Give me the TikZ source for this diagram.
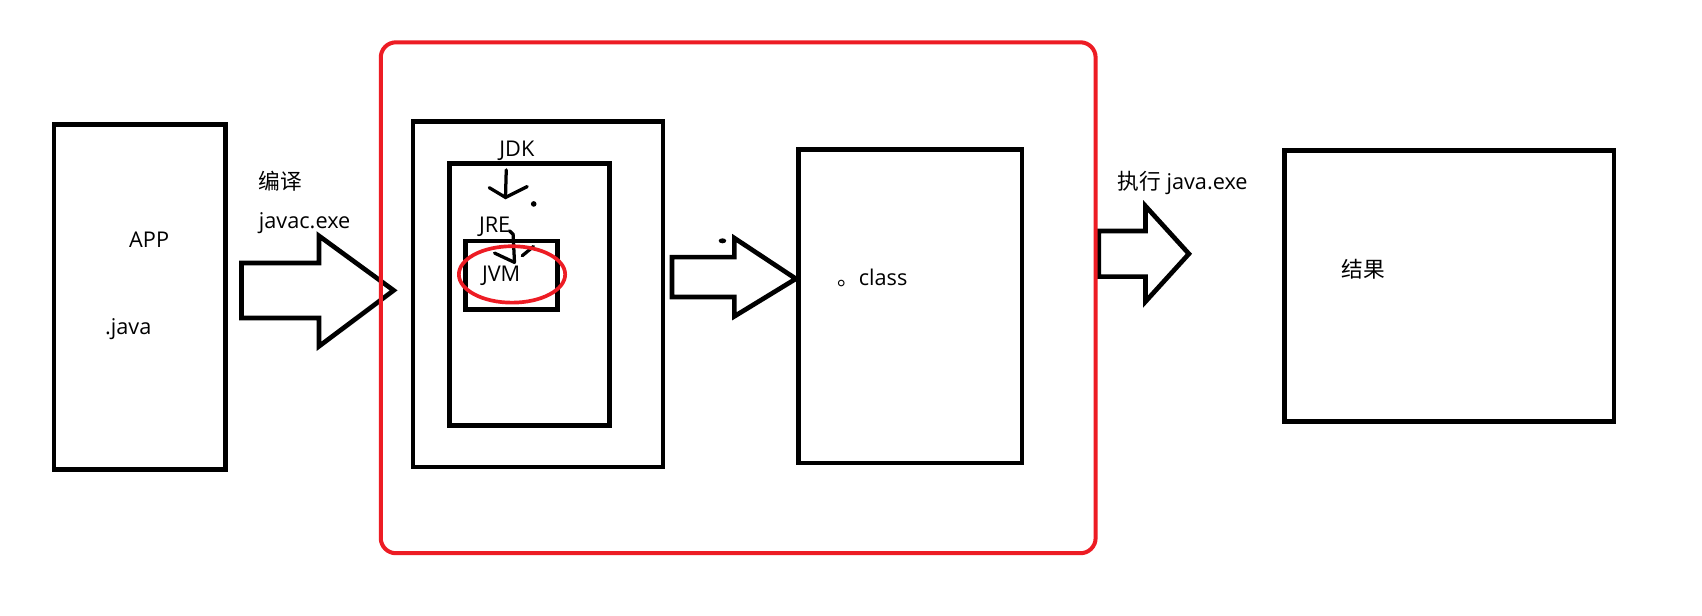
\documentclass[tikz,border=0pt]{standalone}
\usepackage{fontspec}
\setmainfont{Open Sans}
\newfontfamily\cjk{Noto Sans CJK SC}
\usepackage{tikz}
\usetikzlibrary{calc}
\definecolor{paintrot}{RGB}{237,28,36}

\begin{document}
\begin{tikzpicture}[x=1pt,y=-1pt,
  kasten/.style={draw=black,line width=4.3pt,inner sep=0pt},
  pfeil/.style={draw=black,line width=4.3pt,line join=miter},
  strich/.style={draw=black,line width=3pt,line cap=round},
  schrift/.style={font=\fontsize{20}{24}\selectfont,inner sep=0pt}]
\useasboundingbox[fill=white] (0,0) rectangle (1569,567);
%Kaesten
\node[kasten,minimum width=158.3pt,minimum height=318.4pt] (app) at (128.9,273.8) {};
\node[kasten,minimum width=230.3pt,minimum height=318.4pt] (jdk) at (495.9,271.2) {};
\node[kasten,minimum width=147.5pt,minimum height=241pt] (jre) at (488.3,271.5) {};
\node[kasten,minimum width=85pt,minimum height=63.5pt] (jvm) at (471.7,253.8) {};
\node[kasten,minimum width=206pt,minimum height=289pt] (klasse) at (839,282.3) {};
\node[kasten,minimum width=304pt,minimum height=250.3pt] (ergebnis) at (1336,263.7) {};
%Blockpfeile: Schaft links/oben/unten, Kopf x/oben/unten, Spitze
\foreach \xa/\ya/\yb/\xk/\yc/\yd/\xs/\ys in {222.6/242.5/293.2/294/217.4/319.3/362.9/267.7,
  619.5/237/273.8/677/219.5/291.6/733.7/257, 1013/213/255/1056/190/278/1096/234}{
\draw[pfeil] (\xa,\ya) -- (\xk,\ya) -- (\xk,\yc) -- (\xs,\ys) -- (\xk,\yd) -- (\xk,\yb) -- (\xa,\yb) -- cycle;
}
\draw[paintrot,line width=3.7pt,rounded corners=14pt] (351,39) rectangle (1010,510);
%Texte
\node[schrift,anchor=base] (tapp) at (137.5,228) {APP};
\node[schrift,anchor=base] (tjava) at (118.2,308.5) {.java};
\node[schrift,anchor=base west] (tbianyi) at (238.5,174.5) {\cjk 编译};
\node[schrift,anchor=base west] (tjavac) at (238.5,210.3) {javac.exe};
\node[schrift,anchor=base] (tjdk) at (476.5,144.3) {JDK};
\node[schrift,anchor=base] (tjre) at (456,214.3) {JRE};
\node[schrift,anchor=base] (tjvm) at (462,259.4) {JVM};
\node[schrift,anchor=base west] (tclass) at (771.5,263.4) {{\cjk 。}class};
\node[schrift,anchor=base west] (tzhixing) at (1030,174.4) {{\cjk 执行} java.exe};
\node[schrift,anchor=base] (tjieguo) at (1257,255.5) {\cjk 结果};
%Handgezeichnete Pfeile
\draw[strich] (466.7,156.6) -- (466,182);
\draw[strich] (451,173) -- (466,182) -- (486,172);
\fill (492,188) circle (2.6pt);
\draw[strich] (469.7,212.8) -- (473,216) -- (474.3,241.9);
\draw[strich] (455.9,233.3) -- (474.3,241.9);
\draw[strich] (481.4,235.8) -- (491.8,227.2);
\fill (666,222) ellipse (3.5pt and 2.3pt);
\draw[paintrot,line width=3.4pt] (472,253) ellipse (49pt and 26pt);
\end{tikzpicture}
\end{document}
